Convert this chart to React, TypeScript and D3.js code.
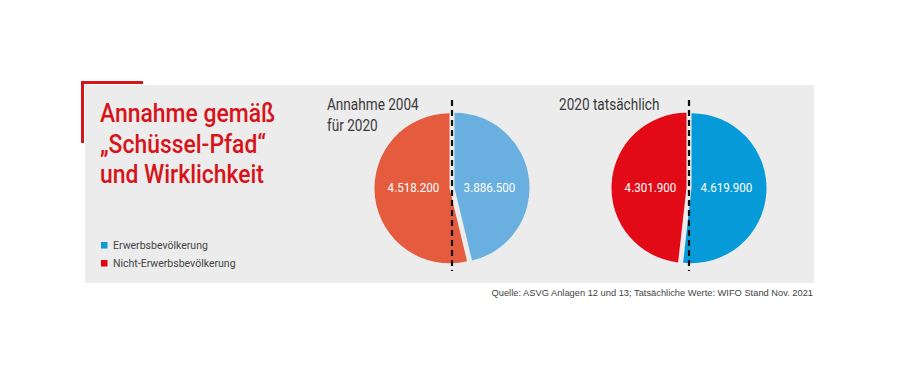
import React from "react";
import * as d3 from "d3";

const categories = ["Erwerbsbevölkerung", "Nicht-Erwerbsbevölkerung"];
const pieTitles = [["Annahme 2004", "für 2020"], ["2020 tatsächlich"]];
const seriesAnnahme = [3886500, 4518200];
const seriesTatsaechlich = [4619900, 4301900];
const titleLines = ["Annahme gemäß", "„Schüssel-Pfad“", "und Wirklichkeit"];
const sourceText = "Quelle: ASVG Anlagen 12 und 13; Tatsächliche Werte: WIFO Stand Nov. 2021";

const pieColors = [
  ["#69afe0", "#e55b3e"],
  ["#069bd8", "#e20a17"],
];
const legendColors = ["#0a98d6", "#e2000f"];

const W = 900;
const H = 369;
const font = "Roboto, 'Liberation Sans', Arial, sans-serif";
const SX = 0.84; // horizontal condensing factor to mimic a condensed face
const fmt = (v: number) => d3.format(",")(v).replace(/,/g, ".");

function CText({ x, y, children, size, sx = SX, anchor = "start", fill, weight = 400 }: any) {
  return (
    <text
      transform={`translate(${x},${y}) scale(${sx},1)`}
      textAnchor={anchor}
      fontFamily={font}
      fontSize={size}
      fontWeight={weight}
      fill={fill}
    >
      {children}
    </text>
  );
}

function Pie({ cx, cy, values, colors, title, titleX }: any) {
  const R = 75;
  const pie = d3.pie<number>().sort(null).value((d) => d);
  const arcs = pie(values);
  const arc = d3.arc<d3.PieArcDatum<number>>().innerRadius(0).outerRadius(R);
  const explode = 2.5;
  return (
    <g>
      {title.map((t: string, i: number) => (
        <CText key={i} x={titleX} y={110 + i * 21} size={17} fill="#3a3a3a" sx={0.8}>
          {t}
        </CText>
      ))}
      {arcs.map((a, i) => {
        const mid = (a.startAngle + a.endAngle) / 2;
        const dx = Math.sin(mid) * explode;
        const dy = -Math.cos(mid) * explode;
        return (
          <path key={i} d={arc(a) || ""} transform={`translate(${cx + dx},${cy + dy})`} fill={colors[i]} />
        );
      })}
      <line x1={cx} x2={cx} y1={100} y2={271} stroke="#111" strokeWidth={2.2} strokeDasharray="6,4" />
      {arcs.map((a, i) => (
        <CText
          key={"l" + i}
          x={cx + (i === 0 ? 37.5 : -38.5)}
          y={cy + 3.5}
          anchor="middle"
          size={13.5}
          fill="#fff"
          sx={0.86}
        >
          {fmt(a.data)}
        </CText>
      ))}
    </g>
  );
}

export default function App() {
  return (
    <div style={{ position: "absolute", left: 0, top: 0 }}>
      <style>{`body{margin:0}`}</style>
      <svg width={W} height={H} viewBox={`0 0 ${W} ${H}`}>
        <rect x={0} y={0} width={W} height={H} fill="#fff" />
        <rect x={85} y={85} width={729} height={198} fill="#ececec" />
        <path d="M82.5,143 V82.5 H143" fill="none" stroke="#d7141a" strokeWidth={3} />
        {titleLines.map((t, i) => (
          <CText key={i} x={100} y={122 + i * 30.5} size={26.5} fill="#d7141a" weight={500} sx={0.865}>
            {t}
          </CText>
        ))}
        {categories.map((c, i) => (
          <g key={c}>
            <rect x={101} y={242 + i * 18} width={6.5} height={6.5} fill={legendColors[i]} />
            <CText x={113} y={249 + i * 18} size={11.5} fill="#444" sx={0.915}>
              {c}
            </CText>
          </g>
        ))}
        <Pie cx={452} cy={188} values={seriesAnnahme} colors={pieColors[0]} title={pieTitles[0]} titleX={327} />
        <Pie cx={689} cy={188} values={seriesTatsaechlich} colors={pieColors[1]} title={pieTitles[1]} titleX={559} />
        <text x={813} y={296} textAnchor="end" fontFamily="'Liberation Sans', Arial, sans-serif" fontSize={9.3} fill="#444">
          {sourceText}
        </text>
      </svg>
    </div>
  );
}
